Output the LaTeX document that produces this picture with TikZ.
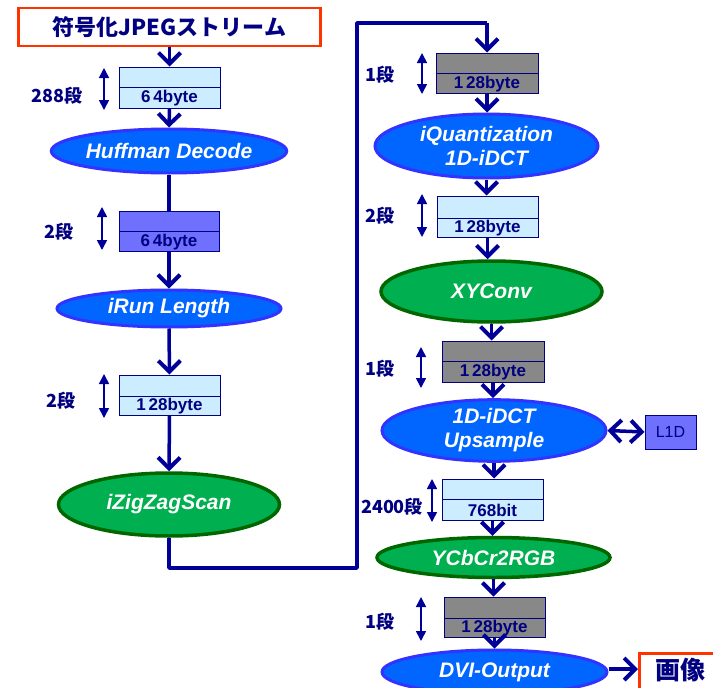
\documentclass[tikz,border=0pt]{standalone}
\usepackage{fontspec}
\setmainfont{Liberation Sans}
\newfontfamily\jp{Noto Sans CJK JP}
\usetikzlibrary{shapes.geometric,arrows.meta}
\definecolor{navy}{HTML}{000099}
\definecolor{txtnavy}{HTML}{000080}
\definecolor{lblue}{HTML}{CCECFF}
\definecolor{bufgray}{HTML}{888888}
\definecolor{bufpurp}{HTML}{7070FF}
\definecolor{elblue}{HTML}{0066FF}
\definecolor{elblueb}{HTML}{3333FF}
\definecolor{elgreen}{HTML}{00B050}
\definecolor{elgreenb}{HTML}{006600}
\definecolor{redorange}{HTML}{FF3300}
\tikzset{
  barb/.tip={Straight Barb[length=11pt,width=22pt,line width=4pt]},
  flow/.style={draw=navy, line width=3.5pt, -barb},
  plain/.style={draw=navy, line width=3.5pt},
  flowtwo/.style={draw=navy, line width=3.5pt, barb-barb},
  sizearrow/.style={draw=navy, line width=1.6pt, {Triangle[length=10pt,width=10pt]}-{Triangle[length=10pt,width=10pt]}},
  bufbox/.style={draw=txtnavy, line width=1pt, rectangle, inner sep=0pt},
  buftxt/.style={text=txtnavy, font=\fontsize{17}{18}\selectfont\bfseries, inner sep=0pt},
  lbl/.style={text=txtnavy, font=\fontsize{18}{20}\selectfont\jp\bfseries, inner sep=0pt},
  blueel/.style={ellipse, draw=elblueb, fill=elblue, line width=3pt, inner sep=0pt, text=white, font=\fontsize{21}{24}\selectfont\bfseries\itshape, align=center},
  greenel/.style={ellipse, draw=elgreenb, fill=elgreen, line width=3.5pt, inner sep=0pt, text=white, font=\fontsize{21}{24}\selectfont\bfseries\itshape, align=center},
  redbox/.style={draw=redorange, fill=white, line width=2.5pt, rectangle, inner sep=0pt},
  redtxt/.style={text=txtnavy, font=\fontsize{22}{24}\selectfont\jp\bfseries, inner sep=0pt}
}
% \mybuf{name}{x1}{y1}{x2}{y2}{ydiv}{fill}{text}
\newcommand\mybuf[8]{%
  \node[bufbox, fill=#7, minimum width={#4-#2}, minimum height={#5-#3}] (#1) at ({(#2+#4)/2},{(#3+#5)/2}) {};
  \draw[txtnavy, line width=1pt] (#2,#6) -- (#4,#6);
  \node[buftxt] at ({(#2+#4)/2},{(#6+#5)/2+1}) {#8};
}
\begin{document}
\begin{tikzpicture}[x=1pt,y=-1pt]
\useasboundingbox (0,0) rectangle (713,688);
\clip (0,0) rectangle (713,688);
\fill[white] (0,0) rectangle (713,688);

% ---------- left column ----------
\node[redbox, minimum width=302pt, minimum height=38pt] (src) at (169.5,27) {};
\node[redtxt] at (169.5,27) {符号化JPEGストリーム};

\mybuf{b1}{119}{67}{220}{108}{87}{lblue}{6\,4byte}
\node[lbl] (l1) at (57,96) {288段};
\coordinate (s1a) at (104,68); \coordinate (s1b) at (104,110);
\draw[sizearrow] (s1a) -- (s1b);

\node[blueel, minimum width=222pt, minimum height=44pt] (huff) at (169,151) {Huffman Decode};

\mybuf{b2}{119}{211}{219}{251}{231}{bufpurp}{6\,4byte}
\node[lbl] (l2) at (59,232) {2段};
\coordinate (s2a) at (102,207); \coordinate (s2b) at (102,250);
\draw[sizearrow] (s2a) -- (s2b);

\node[blueel, minimum width=224pt, minimum height=37pt] (irun) at (169,308.5) {iRun Length};

\mybuf{b3}{119}{375}{220}{415}{396}{lblue}{1\,28byte}
\node[lbl] (l3) at (61,401) {2段};
\coordinate (s3a) at (104,374); \coordinate (s3b) at (104,418);
\draw[sizearrow] (s3a) -- (s3b);

\node[greenel, minimum width=221pt, minimum height=63pt] (zig) at (169,504.5) {iZigZagScan};

\draw[flow] (src.south) -- (b1.north);
\draw[flow] (b1.south) -- (huff.north);
\draw[plain] (huff.south) -- (b2.north);
\draw[flow] (b2.south) -- (irun.north);
\draw[flow] (irun.south) -- (b3.north);
\draw[flow] (b3.south) -- (zig.north);

% ---------- right column ----------
\mybuf{b4}{436}{53}{538}{93}{73}{bufgray}{1\,28byte}
\node[lbl] (l4) at (380,75) {1段};
\coordinate (s4a) at (422,53); \coordinate (s4b) at (422,94);
\draw[sizearrow] (s4a) -- (s4b);

\coordinate (c1) at (169,568);
\coordinate (c2) at (357,568);
\coordinate (c3) at (357,23);
\coordinate (c4) at (487,23);
\draw[plain, line join=round] (zig.south) -- (c1) -- (c2) -- (c3) -- (c4);
\draw[flow] (c4) -- (b4.north);

\node[blueel, minimum width=223pt, minimum height=64pt] (iq) at (486.5,146) {iQuantization\\1D-iDCT};

\mybuf{b5}{437}{196}{538}{237}{218}{lblue}{1\,28byte}
\node[lbl] (l5) at (380,216) {2段};
\coordinate (s5a) at (422,194); \coordinate (s5b) at (422,237);
\draw[sizearrow] (s5a) -- (s5b);

\node[greenel, minimum width=221pt, minimum height=61pt] (xy) at (491.5,291.5) {XYConv};

\mybuf{b6}{442}{341}{544}{382}{361}{bufgray}{1\,28byte}
\node[lbl] (l6) at (380,369) {1段};
\coordinate (s6a) at (421,347); \coordinate (s6b) at (421,388);
\draw[sizearrow] (s6a) -- (s6b);

\node[blueel, minimum width=224pt, minimum height=61pt] (up) at (494,430.5) {1D-iDCT\\Upsample};

\node[draw=txtnavy, fill=bufpurp, line width=1pt, minimum width=51pt, minimum height=34pt, inner sep=0pt, text=txtnavy, font=\fontsize{16}{17}\selectfont] (l1d) at (670.5,432) {L1D};

\mybuf{b7}{442}{479}{543}{520}{499}{lblue}{768bit}
\node[lbl] (l7) at (392,507) {2400段};
\coordinate (s7a) at (432,479); \coordinate (s7b) at (432,522);
\draw[sizearrow] (s7a) -- (s7b);

\node[greenel, minimum width=233pt, minimum height=40pt] (ycc) at (493.5,557.5) {YCbCr2RGB};

\mybuf{b8}{444}{597}{545}{637}{618}{bufgray}{1\,28byte}
\node[lbl] (l8) at (380,622) {1段};
\coordinate (s8a) at (421,597); \coordinate (s8b) at (421,641);
\draw[sizearrow] (s8a) -- (s8b);

\node[blueel, minimum width=225pt, minimum height=44pt] (dvi) at (494.5,672) {DVI-Output};

\node[redbox, anchor=north west, minimum width=100pt, minimum height=50pt] (img) at (638,652) {};
\node[redtxt, font=\fontsize{25}{27}\selectfont\jp\bfseries] at (680,670) {画像};

\draw[flow] (b4.south) -- (b4.south |- iq.north);
\draw[flow] (iq.south) -- (iq.south |- b5.north);
\draw[flow] (b5.south) -- (b5.south |- xy.north);
\draw[flow] (xy.south) -- (xy.south |- b6.north);
\draw[flow] (b6.south) -- (b6.south |- up.north);
\draw[flowtwo] (up.east) -- (l1d.west);
\draw[flow] (up.south) -- (up.south |- b7.north);
\draw[flow] (b7.south) -- (b7.south |- ycc.north);
\draw[flow] (ycc.south) -- (ycc.south |- b8.north);
\draw[flow] (b8.south) -- (b8.south |- dvi.north);
\draw[flow] ([yshift=3pt]dvi.east) -- (img.west |- {(0,669)});
\end{tikzpicture}
\end{document}
